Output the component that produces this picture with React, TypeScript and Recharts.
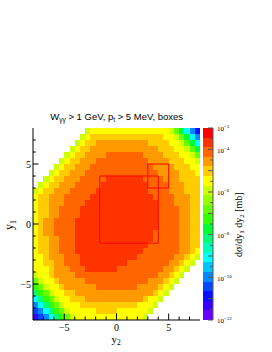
import React from 'react';
import { ComposedChart, XAxis, YAxis, ReferenceArea, Scatter } from 'recharts';

// Bin edges of the 2-D histogram (y2 along x, y1 along y, rows listed top to bottom)
const y2BinEdges = [-8, -7.5, -7, -6.5, -6, -5.5, -5, -4.5, -4, -3.5, -3, -2.5, -2, -1.5, -1, -0.5, 0, 0.5, 1, 1.5, 2, 2.5, 3, 3.5, 4, 4.5, 5, 5.5, 6, 6.5, 7, 7.5, 8];
const y1BinEdges = [8, 7.5, 7, 6.5, 6, 5.5, 5, 4.5, 4, 3.5, 3, 2.5, 2, 1.5, 1, 0.5, 0, -0.5, -1, -1.5, -2, -2.5, -3, -3.5, -4, -4.5, -5, -5.5, -6, -6.5, -7, -7.5, -8];

// Colour-band index of every cell (run-length coded: <count><level>, '.' = empty)
const levelChars = '0123456789ABCDEFGHIJ';
const cellLevelRows = [
  '10. 1D 15E 1D 1B 19 16 14 12',
  '9. 1D 1E 14F 2E 1D 1B 19 16 14',
  '8. 1D 1E 2F 10G 4F 2E 1D 1B 19 16',
  '7. 1D 1E 2F 13G 3F 2E 1D 1B 19',
  '6. 1D 1E 2F 4G 7H 4G 3F 2E 1D 1B',
  '5. 1D 1E 2F 3G 10H 4G 3F 2E 1D',
  '4. 1D 1E 2F 3G 12H 4G 3F 2E',
  '3. 1D 1E 2F 3G 14H 4G 3F 1E',
  '2. 1D 1E 2F 3G 5H 7I 4H 3G 4F',
  '1. 1D 1E 2F 3G 5H 9I 4H 3G 3F',
  '1D 1E 2F 3G 5H 10I 4H 3G 3F',
  '1E 2F 3G 5H 12I 4H 3G 2F',
  '1E 2F 3G 4H 14I 3H 3G 2F',
  '1E 2F 2G 4H 15I 4H 2G 2F',
  '1E 2F 2G 4H 15I 4H 2G 2F',
  '1E 1F 2G 4H 16I 4H 2G 2F',
  '1E 1F 2G 4H 16I 4H 2G 2F',
  '1E 1F 2G 4H 15I 5H 2G 2F',
  '1E 2F 2G 3H 15I 5H 2G 2F',
  '1E 2F 2G 3H 14I 6H 2G 2F',
  '1E 2F 2G 3H 13I 7H 2G 1F 1E',
  '2E 1F 3G 3H 11I 7H 2G 1F 1E 1D',
  '2E 2F 2G 3H 9I 8H 2G 1F 1E 1D 1.',
  '3E 1F 3G 3H 6I 9H 2G 1F 1E 1D 2.',
  '1D 2E 1F 4G 16H 2G 1F 1E 1D 3.',
  '1B 1D 2E 1F 5G 12H 3G 1F 1E 1D 4.',
  '1A 1B 1D 2E 1F 6G 8H 4G 1F 1E 1D 5.',
  '18 1A 1B 1D 2E 2F 15G 1F 1E 1D 6.',
  '16 18 1A 1B 1D 2E 3F 11G 1F 2E 1D 7.',
  '14 16 18 1A 1B 1D 3E 11F 3E 1D 8.',
  '13 14 16 18 1A 1B 1D 5E 4F 6E 1D 9.',
  '11 13 14 16 18 1A 1B 1D 13E 1D 10.',
];

// Colour palette (20 contours, log10 of dσ/dy1dy2 from -12 to -3)
const levelColors = [
  '#6a00ff', '#3a00ff', '#0a10ff', '#0048ff', '#0088ff', '#00c4ff', '#00ffff', '#00ffbb', '#00ff77', '#00ff33',
  '#33ff00', '#66ff00', '#99ff00', '#ccff00', '#ffff00', '#ffcc00', '#ff9900', '#ff6600', '#ff3300', '#ff0000',
];
const colorBandEdges = [-12, -11.55, -11.1, -10.65, -10.2, -9.75, -9.3, -8.85, -8.4, -7.95, -7.5, -7.05, -6.6, -6.15, -5.7, -5.25, -4.8, -4.35, -3.9, -3.45, -3];

// Axis ranges and ticks
const plotRange = [-8, 8];
const zRange = [-12, -3];
const axisTicks = [-7, -6, -5, -4, -3, -2, -1, 0, 1, 2, 3, 4, 5, 6, 7];
const majorTicks = [-5, 0, 5];
const zTicks = [-12, -11.5, -11, -10.5, -10, -9.5, -9, -8.5, -8, -7.5, -7, -6.5, -6, -5.5, -5, -4.5, -4, -3.5, -3];
const zLabelTicks = [-3, -4, -6, -8, -10, -12];

// Boxes drawn on the plot
const boxY2 = [[-1.6, 4], [3, 5]];
const boxY1 = [[-1.6, 4], [3, 5]];

const SERIF = 'Liberation Serif, Times New Roman, serif';
const SANS = 'Liberation Sans, Arial, sans-serif';

function decodeRow(rle: string): string {
  return rle
    .split(' ')
    .map((tok) => tok.slice(-1).repeat(parseInt(tok.slice(0, -1), 10)))
    .join('');
}

type Cell = { x1: number; x2: number; y1: number; y2: number; level: number };
const cells: Cell[] = [];
cellLevelRows.forEach((rle, i) => {
  const row = decodeRow(rle);
  let j = 0;
  while (j < row.length) {
    const ch = row[j];
    let k = j;
    while (k + 1 < row.length && row[k + 1] === ch) k++;
    if (ch !== '.') {
      cells.push({ x1: y2BinEdges[j], x2: y2BinEdges[k + 1], y1: y1BinEdges[i + 1], y2: y1BinEdges[i], level: levelChars.indexOf(ch) });
    }
    j = k + 1;
  }
});

// extent anchors (not drawn) so every axis has data
const plotExtent = [
  { x: plotRange[0], y: plotRange[0] },
  { x: plotRange[1], y: plotRange[1] },
];
const zExtent = [
  { x: 0, z: zRange[0] },
  { x: 1, z: zRange[1] },
];

const fmt = (v: number) => (v < 0 ? '\u2212' + Math.abs(v) : String(v));

const CrispRect = (p: any) => (
  <rect x={p.x} y={p.y} width={p.width} height={p.height} fill={p.fill} stroke="none" shapeRendering="crispEdges" />
);
const NoShape = () => <g />;

const BottomTick = (p: any) => {
  const { x, y, payload } = p;
  const major = majorTicks.includes(payload.value);
  return (
    <g>
      <line x1={x} x2={x} y1={y} y2={y - (major ? 6.5 : 3.5)} stroke="#000" strokeWidth={1} />
      {major && (
        <text x={x} y={y + 11.3} textAnchor="middle" fontFamily={SERIF} fontSize={10} fill="#000">
          {fmt(payload.value)}
        </text>
      )}
    </g>
  );
};

const TopTick = (p: any) => {
  const { x, y, payload } = p;
  const major = majorTicks.includes(payload.value);
  return <line x1={x} x2={x} y1={y} y2={y + (major ? 6.5 : 3.5)} stroke="#000" strokeWidth={1} />;
};

const LeftTick = (p: any) => {
  const { x, y, payload } = p;
  const major = majorTicks.includes(payload.value);
  return (
    <g>
      <line x1={x} x2={x + (major ? 5.5 : 2.8)} y1={y} y2={y} stroke="#000" strokeWidth={1} />
      {major && (
        <text x={x - 2} y={y + 3.5} textAnchor="end" fontFamily={SERIF} fontSize={10} fill="#000">
          {fmt(payload.value)}
        </text>
      )}
    </g>
  );
};

const RightTick = (p: any) => {
  const { x, y, payload } = p;
  const major = majorTicks.includes(payload.value);
  return <line x1={x} x2={x - (major ? 5.5 : 2.8)} y1={y} y2={y} stroke="#000" strokeWidth={1} />;
};

const ZTick = (p: any) => {
  const { x, y, payload } = p;
  const v = payload.value;
  const major = Number.isInteger(v);
  const labeled = zLabelTicks.includes(v);
  return (
    <g>
      <line x1={x} x2={x - (major ? 5 : 2.8)} y1={y} y2={y} stroke="#555" strokeWidth={1} />
      {labeled && (
        <text x={x + 4} y={y + 3.2} fontFamily={SERIF} fontSize={7} fill="#000">
          10
          <tspan dy={-3} fontSize={5}>
            {'\u2212' + Math.abs(v)}
          </tspan>
        </text>
      )}
    </g>
  );
};

export default function App() {
  return (
    <div style={{ position: 'absolute', left: 0, top: 0, width: 272, height: 352, background: '#fff' }}>
      <div style={{ position: 'absolute', left: 0, top: 0 }}>
        <ComposedChart width={272} height={352} margin={{ top: 128, right: 72, bottom: 2, left: 3 }}>
          <XAxis
            xAxisId="b"
            dataKey="x"
            type="number"
            domain={plotRange}
            allowDataOverflow
            ticks={axisTicks}
            interval={0}
            tickSize={0}
            tickMargin={0}
            tickLine={false}
            axisLine={{ stroke: '#000' }}
            height={30}
            tick={<BottomTick />}
          />
          <XAxis
            xAxisId="t"
            dataKey="x"
            orientation="top"
            type="number"
            domain={plotRange}
            allowDataOverflow
            ticks={axisTicks}
            interval={0}
            tickSize={0}
            tickMargin={0}
            tickLine={false}
            axisLine={{ stroke: '#000' }}
            height={0}
            tick={<TopTick />}
          />
          <YAxis
            yAxisId="l"
            dataKey="y"
            type="number"
            domain={plotRange}
            allowDataOverflow
            ticks={axisTicks}
            interval={0}
            tickSize={0}
            tickMargin={0}
            tickLine={false}
            axisLine={{ stroke: '#000' }}
            width={30}
            tick={<LeftTick />}
          />
          <YAxis
            yAxisId="r"
            dataKey="y"
            orientation="right"
            type="number"
            domain={plotRange}
            allowDataOverflow
            ticks={axisTicks}
            interval={0}
            tickSize={0}
            tickMargin={0}
            tickLine={false}
            axisLine={{ stroke: '#000' }}
            width={0}
            tick={<RightTick />}
          />
          <Scatter xAxisId="b" yAxisId="l" data={plotExtent} dataKey="y" shape={NoShape} isAnimationActive={false} legendType="none" />
          <Scatter xAxisId="t" yAxisId="r" data={plotExtent} dataKey="y" shape={NoShape} isAnimationActive={false} legendType="none" />
          {cells.map((c, idx) => (
            <ReferenceArea
              key={'c' + idx}
              xAxisId="b"
              yAxisId="l"
              x1={c.x1}
              x2={c.x2}
              y1={c.y1}
              y2={c.y2}
              fill={levelColors[c.level]}
              fillOpacity={1}
              stroke="none"
              ifOverflow="visible"
              shape={CrispRect}
            />
          ))}
          {boxY2.map((b, idx) => (
            <ReferenceArea
              key={'box' + idx}
              xAxisId="b"
              yAxisId="l"
              x1={b[0]}
              x2={b[1]}
              y1={boxY1[idx][0]}
              y2={boxY1[idx][1]}
              fill="none"
              fillOpacity={0}
              stroke="#ff0000"
              strokeWidth={1}
              ifOverflow="visible"
            />
          ))}
        </ComposedChart>
      </div>
      <div style={{ position: 'absolute', left: 0, top: 0 }}>
        <ComposedChart width={272} height={352} margin={{ top: 128, right: 0, bottom: 32, left: 203 }}>
          <XAxis xAxisId="c" dataKey="x" type="number" domain={[0, 1]} allowDataOverflow hide />
          <YAxis
            yAxisId="z"
            dataKey="z"
            orientation="right"
            type="number"
            domain={zRange}
            allowDataOverflow
            ticks={zTicks}
            interval={0}
            tickSize={0}
            tickMargin={0}
            tickLine={false}
            axisLine={{ stroke: '#555' }}
            width={59}
            tick={<ZTick />}
          />
          <Scatter xAxisId="c" yAxisId="z" data={zExtent} dataKey="z" shape={NoShape} isAnimationActive={false} legendType="none" />
          {levelColors.map((col, k) => (
            <ReferenceArea
              key={'z' + k}
              xAxisId="c"
              yAxisId="z"
              x1={0}
              x2={1}
              y1={colorBandEdges[k]}
              y2={colorBandEdges[k + 1]}
              fill={col}
              fillOpacity={1}
              stroke="none"
              ifOverflow="visible"
              shape={CrispRect}
            />
          ))}
        </ComposedChart>
      </div>
      <svg width={272} height={352} style={{ position: 'absolute', left: 0, top: 0, pointerEvents: 'none' }}>
        <text x={116.7} y={120} textAnchor="middle" fontFamily={SANS} fontSize={9.5} fill="#000">
          W<tspan dy={2} fontSize={6.5}>γγ</tspan>
          <tspan dy={-2}> &gt; 1 GeV, p</tspan>
          <tspan dy={2} fontSize={6.5}>t</tspan>
          <tspan dy={-2}> &gt; 5 MeV, boxes</tspan>
        </text>
        <text x={111.5} y={342.5} fontFamily={SERIF} fontSize={11} fill="#000">
          y<tspan dy={2.5} fontSize={7.5}>2</tspan>
        </text>
        <text transform="translate(12.5,230) rotate(-90)" fontFamily={SERIF} fontSize={12} fill="#000">
          y<tspan dy={3} fontSize={8}>1</tspan>
        </text>
        <text transform="translate(241.5,257) rotate(-90)" fontFamily={SERIF} fontSize={10} fill="#000">
          dσ/dy<tspan dy={2.5} fontSize={7}>1</tspan>
          <tspan dy={-2.5}> dy</tspan>
          <tspan dy={2.5} fontSize={7}>2</tspan>
          <tspan dy={-2.5}> [mb]</tspan>
        </text>
      </svg>
    </div>
  );
}
